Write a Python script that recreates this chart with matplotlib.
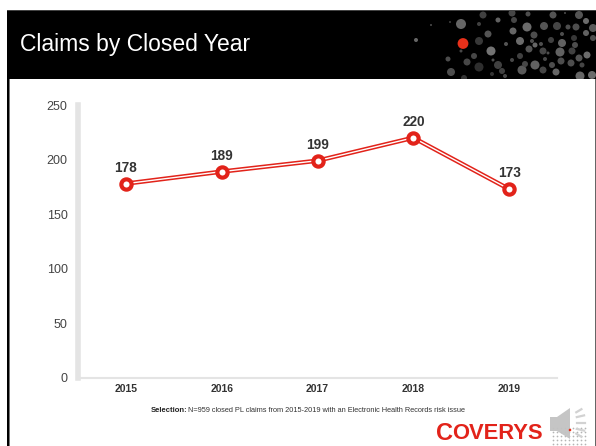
import numpy as np
import matplotlib
matplotlib.use('Agg')
import matplotlib.pyplot as plt
from matplotlib.patches import Rectangle, Polygon, Circle

years = ['2015', '2016', '2017', '2018', '2019']
claims = [178, 189, 199, 220, 173]
yticks = [0, 50, 100, 150, 200, 250]

# background specks in the banner: x, y, radius, grey level
speck_x = [461, 416, 431, 479, 488, 479, 491, 498, 513, 514, 527, 520, 506, 529, 534, 544, 551, 562, 543, 560,
           557, 576, 586, 586, 574, 575, 572, 579, 587, 593, 448, 467, 474, 479, 451, 498, 502, 493, 512, 520,
           535, 522, 525, 543, 552, 556, 561, 571, 582, 580, 592, 492, 505, 464, 450, 483, 512, 528, 553, 579,
           565, 461, 545, 532, 535, 541, 548, 593, 562, 568]
speck_y = [24, 40, 25, 41, 34, 24, 51, 20, 31, 20, 27, 41, 44, 49, 35, 26, 40, 43, 51, 52,
           26, 27, 21, 33, 38, 45, 51, 58, 55, 38, 59, 62, 56, 67, 72, 65, 71, 60, 60, 56,
           65, 70, 64, 70, 65, 72, 61, 63, 65, 76, 75, 74, 76, 78, 22, 15, 13, 14, 15, 15,
           13, 51, 59, 41, 45, 44, 53, 28, 34, 27]
speck_r = [5, 2, 1, 4, 3.5, 2, 4.5, 2.5, 3.5, 3, 4.5, 4, 2, 3.5, 3.5, 4, 3, 4, 3.5, 4.5,
           4, 3.5, 3, 3, 3, 3, 3.5, 3.5, 3.5, 3, 2.5, 3.5, 3, 4.5, 4, 4, 3, 1.5, 2, 3,
           4.5, 4.5, 3, 3.5, 3, 3.5, 3.5, 3.5, 2.5, 4.5, 4, 2, 2, 3, 1, 3.5, 3.5, 2.5, 3.5, 4,
           1, 1.5, 2, 2, 2.5, 2, 1.5, 4, 2, 2.5]
speck_g = [.4, .4, .3, .22, .33, .25, .45, .38, .4, .27, .42, .42, .33, .33, .3, .33, .25, .38, .27, .38,
           .27, .3, .42, .38, .22, .3, .25, .33, .42, .3, .3, .28, .28, .18, .3, .25, .25, .3, .28, .25,
           .38, .35, .28, .27, .3, .4, .3, .3, .27, .4, .42, .2, .28, .2, .25, .25, .27, .3, .33, .33,
           .3, .28, .28, .3, .4, .3, .3, .35, .3, .3]

# dot screen over the speaker icon
screen_x = np.arange(553, 588, 4)
screen_y = np.arange(428, 446, 4)

plt.rcParams['font.family'] = ['Liberation Sans', 'DejaVu Sans']

fig = plt.figure(figsize=(5.96, 4.46), dpi=100)

# full-figure overlay in pixel coords for the slide furniture
bg = fig.add_axes([0, 0, 1, 1])
bg.set_xlim(0, 596)
bg.set_ylim(446, 0)
bg.axis('off')
banner = Rectangle((7, 10), 589, 68.7, fc='black', ec='none')
bg.add_patch(banner)
bg.add_patch(Rectangle((7, 10), 589, 0.7, fc='#444444', ec='none', zorder=3))
bg.add_patch(Rectangle((7, 78.7), 2, 368, fc='black', ec='none'))
bg.add_patch(Rectangle((9, 78.7), 1, 368, fc='#777777', ec='none'))
bg.add_patch(Rectangle((594.6, 78.7), 1.4, 368, fc='#666666', ec='none'))
for x, y, r, g in zip(speck_x, speck_y, speck_r, speck_g):
    c = Circle((x, y), r, fc=str(g), ec='none')
    bg.add_patch(c)
    c.set_clip_path(banner)
bg.add_patch(Circle((463, 43.5), 5.4, fc='#e8301a', ec='none'))
bg.text(20, 44, 'Claims by Closed Year', color='white', fontsize=16.5, va='center', ha='left')

# footnote
bg.text(151, 410.5, 'Selection:', fontsize=5.5, fontweight='bold', color='#222222', va='center')
bg.text(188, 410.5, 'N=959 closed PL claims from 2015-2019 with an Electronic Health Records risk issue',
        fontsize=5.3, color='#333333', va='center')

# logo
bg.text(436, 433, 'C', fontsize=17, fontweight='bold', color='#e2231a', va='center')
bg.text(452.5, 433.5, 'OVERYS', fontsize=15.8, fontweight='bold', color='#e2231a', va='center')

# speaker icon
sx, sy = np.meshgrid(screen_x, screen_y)
bg.scatter(sx, sy, s=1.5, color='#b4b4b4', lw=0)
bg.add_patch(Polygon([[550, 417], [557, 417], [570, 408], [570, 439], [557, 431], [550, 431]],
                     fc='#c2c2c2', ec='none', alpha=0.95))
for a in np.radians([-50, -25, 0, 25, 50]):
    bg.plot([575 + 2 * np.cos(a), 575 + 10 * np.cos(a)], [423 + 14 * np.sin(a), 423 + 18 * np.sin(a)],
            color='#d2d2d2', lw=1.6)
bg.add_patch(Circle((570, 430), 1.3, fc='#e8301a', ec='none'))

ax = fig.add_axes([78 / 596, 1 - 378 / 446, 479 / 596, 273 / 446])
ax.patch.set_alpha(0)
x = np.arange(len(years))
ax.plot(x, claims, color='#e2231a', lw=3.2, zorder=3, solid_joinstyle='miter')
ax.plot(x, claims, color='white', lw=1.0, zorder=4, solid_joinstyle='miter')
ax.plot(x, claims, ls='none', marker='o', ms=7.4, mfc='white', mec='#e2231a', mew=3.0, zorder=5)
for xi, v in zip(x, claims):
    ax.annotate(str(v), (xi, v), xytext=(0, 6.5), textcoords='offset points', ha='center', va='bottom',
                fontsize=9.8, fontweight='bold', color='#333333')

ax.set_xlim(-0.5, 4.5)
ax.set_ylim(0, 250)
ax.set_xticks(x)
ax.set_xticklabels(years, fontsize=7.5, fontweight='bold', color='#333333')
ax.set_yticks(yticks)
ax.tick_params(axis='y', labelsize=9, labelcolor='#444444', length=0, pad=7.5)
ax.tick_params(axis='x', length=0, pad=4.5)
for s in ['top', 'right']:
    ax.spines[s].set_visible(False)
ax.spines['left'].set_color('#e4e4e4')
ax.spines['left'].set_linewidth(4)
ax.spines['bottom'].set_color('#e4e4e4')
ax.spines['bottom'].set_linewidth(1.5)

fig.savefig('out.png', dpi=100)
